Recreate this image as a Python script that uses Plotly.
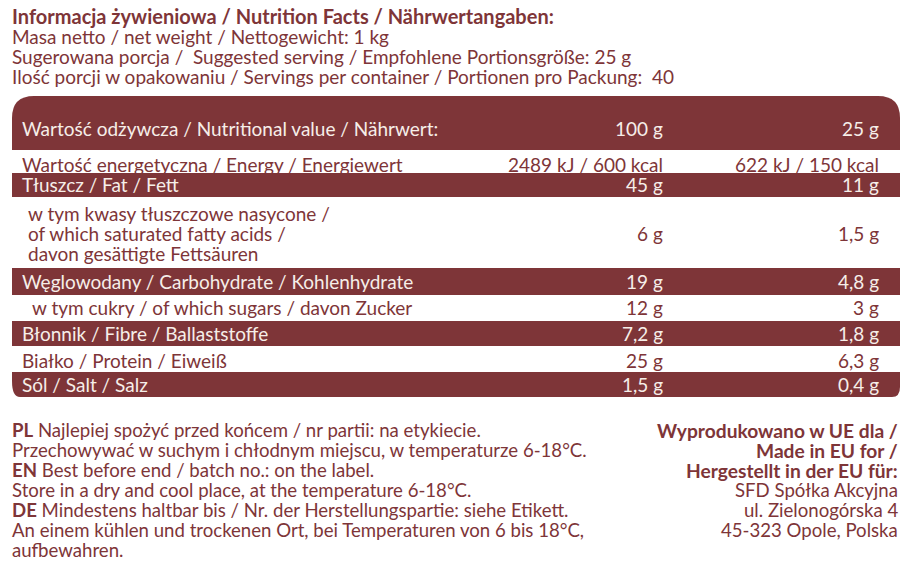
import plotly.graph_objects as go

W, H = 917, 586
OFF = 8  # page body margin: figure starts 8px in from the window edge
RED = "#7e3538"
CREAM = "#f6eee8"
FONT = "Lato"

# --- data ---
intro_title = "Informacja żywieniowa / Nutrition Facts / Nährwertangaben:"
intro_lines = [
    "Masa netto / net weight / Nettogewicht: 1 kg",
    "Sugerowana porcja /  Suggested serving / Empfohlene Portionsgröße: 25 g",
    "Ilość porcji w opakowaniu / Servings per container / Portionen pro Packung:  40",
]
header = ["Wartość odżywcza / Nutritional value / Nährwert:", "100 g", "25 g"]
labels = [
    ["Wartość energetyczna / Energy / Energiewert"],
    ["Tłuszcz / Fat / Fett"],
    ["w tym kwasy tłuszczowe nasycone /", "of which saturated fatty acids /", "davon gesättigte Fettsäuren"],
    ["Węglowodany / Carbohydrate / Kohlenhydrate"],
    ["w tym cukry / of which sugars / davon Zucker"],
    ["Błonnik / Fibre / Ballaststoffe"],
    ["Białko / Protein / Eiweiß"],
    ["Sól / Salt / Salz"],
]
per_100g = ["2489 kJ / 600 kcal", "45 g", "6 g", "19 g", "12 g", "7,2 g", "25 g", "1,5 g"]
per_25g = ["622 kJ / 150 kcal", "11 g", "1,5 g", "4,8 g", "3 g", "1,8 g", "6,3 g", "0,4 g"]
shaded = [False, True, False, True, False, True, False, True]
storage_lines = [
    ("PL", "Najlepiej spożyć przed końcem / nr partii: na etykiecie."),
    ("", "Przechowywać w suchym i chłodnym miejscu, w temperaturze 6-18°C."),
    ("EN", "Best before end / batch no.: on the label."),
    ("", "Store in a dry and cool place, at the temperature 6-18°C."),
    ("DE", "Mindestens haltbar bis / Nr. der Herstellungspartie: siehe Etikett."),
    ("", "An einem kühlen und trockenen Ort, bei Temperaturen von 6 bis 18°C,"),
    ("", "aufbewahren."),
]
maker_bold = ["Wyprodukowano w UE dla /", "Made in EU for /", "Hergestellt in der EU für:"]
maker_lines = ["SFD Spółka Akcyjna", "ul. Zielonogórska 4", "45-323 Opole, Polska"]

# --- layout geometry (page pixel space) ---
X0, X1 = 12, 900
HEAD_TOP = 96
row_edges = [150, 173, 197, 268, 295, 321, 346, 372, 397]
row_text_y = [164, 184, 233, 281, 307, 333, 360, 384]
label_indent = [0, 0, 6, 0, 10, 0, 0, 0]
COL_LBL, COL_100, COL_25 = 20, 665, 881

fig = go.Figure()
fig.add_trace(go.Scatter(x=[OFF, W], y=[OFF, H], mode="markers", marker=dict(opacity=0), hoverinfo="skip"))

shapes = []
# header band with rounded top corners
r = 22
shapes.append(dict(type="path", xref="x", yref="y", fillcolor=RED, line=dict(width=0),
                   path=(f"M {X0},150 L {X0},{HEAD_TOP+r} Q {X0},{HEAD_TOP} {X0+r},{HEAD_TOP} "
                         f"L {X1-r},{HEAD_TOP} Q {X1},{HEAD_TOP} {X1},{HEAD_TOP+r} L {X1},150 Z")))
for i, s in enumerate(shaded):
    if not s:
        continue
    top, bot = row_edges[i], row_edges[i + 1]
    if i == len(shaded) - 1:
        path = (f"M {X0},{top} L {X1},{top} L {X1},{bot-10} Q {X1},{bot} {X1-8},{bot} "
                f"L {X0+8},{bot} Q {X0},{bot} {X0},{bot-16} Z")
    else:
        path = f"M {X0},{top} L {X1},{top} L {X1},{bot} L {X0},{bot} Z"
    shapes.append(dict(type="path", xref="x", yref="y", fillcolor=RED, line=dict(width=0), path=path))

ann = []

def txt(x, y, s, anchor="left", color=RED, size=19, bold=False):
    if bold:
        s = "<b>" + s + "</b>"
    ann.append(dict(x=x, y=y, xref="x", yref="y", text=s, showarrow=False, xanchor=anchor,
                    yanchor="middle", align=anchor, font=dict(family=FONT, size=size, color=color)))

txt(X0 - 2, 16, intro_title, bold=True, size=20)
for k, line in enumerate(intro_lines):
    txt(X0 - 2, 36 + 20 * k, line)

txt(COL_LBL, 128, header[0], color=CREAM)
txt(COL_100, 128, header[1], anchor="right", color=CREAM)
txt(COL_25, 128, header[2], anchor="right", color=CREAM)

for i, lab in enumerate(labels):
    c = CREAM if shaded[i] else RED
    n = len(lab)
    for j, line in enumerate(lab):
        txt(COL_LBL + label_indent[i], row_text_y[i] + 20 * (j - (n - 1) / 2), line, color=c)
    txt(COL_100, row_text_y[i], per_100g[i], anchor="right", color=c)
    txt(COL_25, row_text_y[i], per_25g[i], anchor="right", color=c)

for k, (tag, line) in enumerate(storage_lines):
    s = (f"<b>{tag}</b> " if tag else "") + line
    txt(X0 - 2, 430 + 20 * k, s, size=18.6)

for k, line in enumerate(maker_bold + maker_lines):
    txt(900, 430 + 20 * k, line, anchor="right", bold=k < 3, size=18.6 if k >= 3 else 19.2)

fig.update_layout(
    width=W - 2 * OFF, height=H - 2 * OFF, margin=dict(l=0, r=0, t=0, b=0),
    paper_bgcolor="white", plot_bgcolor="white", showlegend=False,
    xaxis=dict(range=[OFF, W - OFF], visible=False, fixedrange=True),
    yaxis=dict(range=[H - OFF, OFF], visible=False, fixedrange=True),
    shapes=shapes, annotations=ann,
)
fig.write_html("out.html")
